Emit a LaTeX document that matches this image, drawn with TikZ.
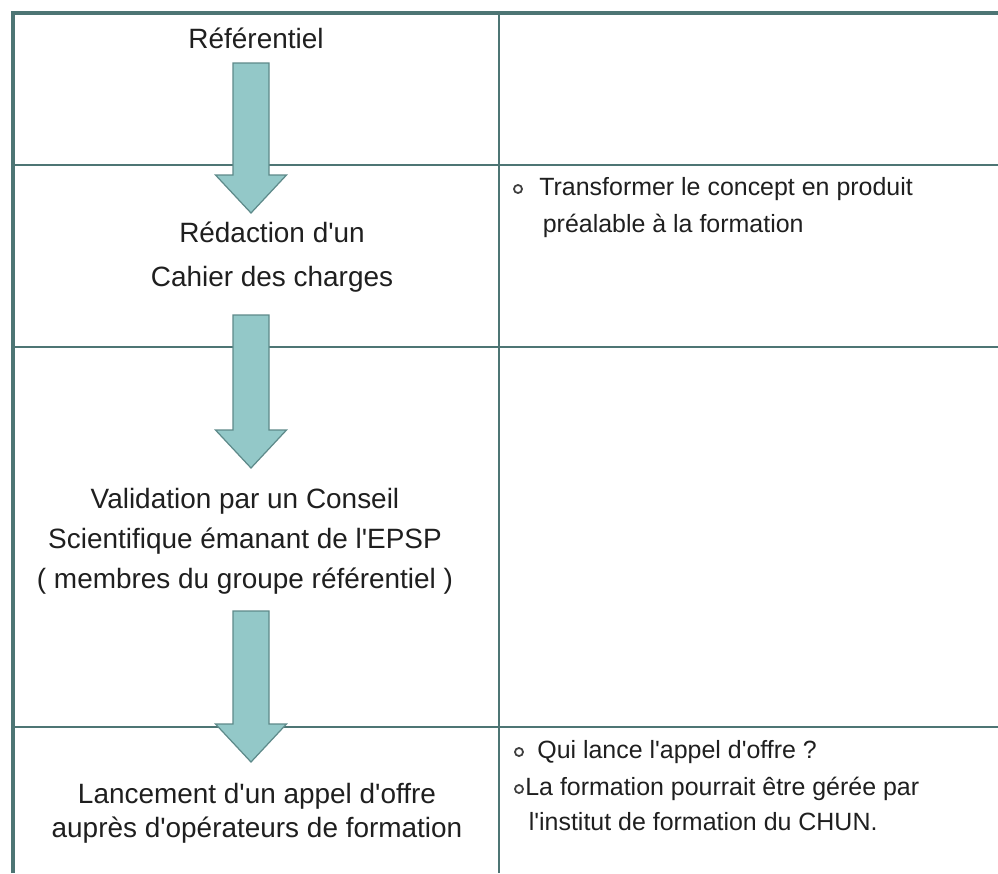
\documentclass[tikz,border=0pt]{standalone}
\usepackage{fontspec}
\setmainfont{Liberation Sans}[Ligatures=TeXOff]
\usetikzlibrary{calc}

\definecolor{tabtrait}{HTML}{4D7574}
\definecolor{flechefond}{HTML}{93C8C8}
\definecolor{flechetrait}{HTML}{5E8A8A}

% grosse fleche verticale : #1 = haut du fut, #2 = pointe
\newcommand{\flecheBloc}[2]{%
  \draw[fleche] ($(#1)+(-18,0)$) -- ($(#2)+(-18,-38)$) -- ($(#2)+(-35.5,-38)$)
    -- (#2) -- ($(#2)+(35.5,-38)$) -- ($(#2)+(18,-38)$) -- ($(#1)+(18,0)$) -- cycle;}

\begin{document}
\begin{tikzpicture}[x=0.02cm, y=-0.02cm]
    \tikzset{
      bord/.style={draw=tabtrait, line width=1.8pt},
      ligne/.style={draw=tabtrait, line width=0.9pt},
      fleche/.style={draw=flechetrait, fill=flechefond, line width=0.7pt},
      gauche/.style={inner sep=0, align=center, font=\fontsize{15.9}{19.3}\selectfont, anchor=base, text=black!88},
      droite/.style={inner sep=0, align=left, font=\fontsize{14.2}{19.5}\selectfont, anchor=base west, text=black!88},
      puce/.style={circle, draw=black!75, line width=1pt, minimum size=4.6pt, inner sep=0},
    }
    \fill[white] (0,0) rectangle (998,873);
    \useasboundingbox (0,0) rectangle (998,873);

    % grille du tableau
    \draw[ligne] (13,165) -- (998,165);
    \draw[ligne] (13,347) -- (998,347);
    \draw[ligne] (13,727) -- (998,727);
    \draw[ligne] (499,13) -- (499,873);
    \draw[bord] (13,873) -- (13,13) -- (998,13);

    % colonne de gauche (ancre = ligne de base de la derniere ligne)
    \node[gauche] (ref) at (256,48) {Référentiel};
    \node[gauche] (cdc) at (272,286) {Rédaction d'un\\[5.6pt]Cahier des charges};
    \node[gauche] (valid) at (245,588) {Validation par un Conseil\\[3.4pt]Scientifique émanant de l'EPSP\\[3.4pt]( membres du groupe référentiel )};
    \node[gauche] (lanc) at (257,837) {Lancement d'un appel d'offre\\auprès d'opérateurs de formation};

    % fleches
    \coordinate (h1) at (251,63);  \coordinate (p1) at (251,213);
    \coordinate (h2) at (251,315); \coordinate (p2) at (251,468);
    \coordinate (h3) at (251,611); \coordinate (p3) at (251,762);
    \flecheBloc{h1}{p1}
    \flecheBloc{h2}{p2}
    \flecheBloc{h3}{p3}

    % colonne de droite
    \node[puce] (b1) at (518,189) {};
    \node[droite] (transf) at (539,232) {Transformer le concept en produit\\[1.5pt]\hspace{2pt}préalable à la formation};
    \node[puce] (b2) at (519,752) {};
    \node[droite] (qui) at (537,758) {Qui lance l'appel d'offre ?};
    \node[puce] (b3) at (519,789) {};
    \node[droite] (gere) at (525,830) {La formation pourrait être gérée par\\[0.3pt]\hspace{2pt}l'institut de formation du CHUN.};
\end{tikzpicture}
\end{document}
